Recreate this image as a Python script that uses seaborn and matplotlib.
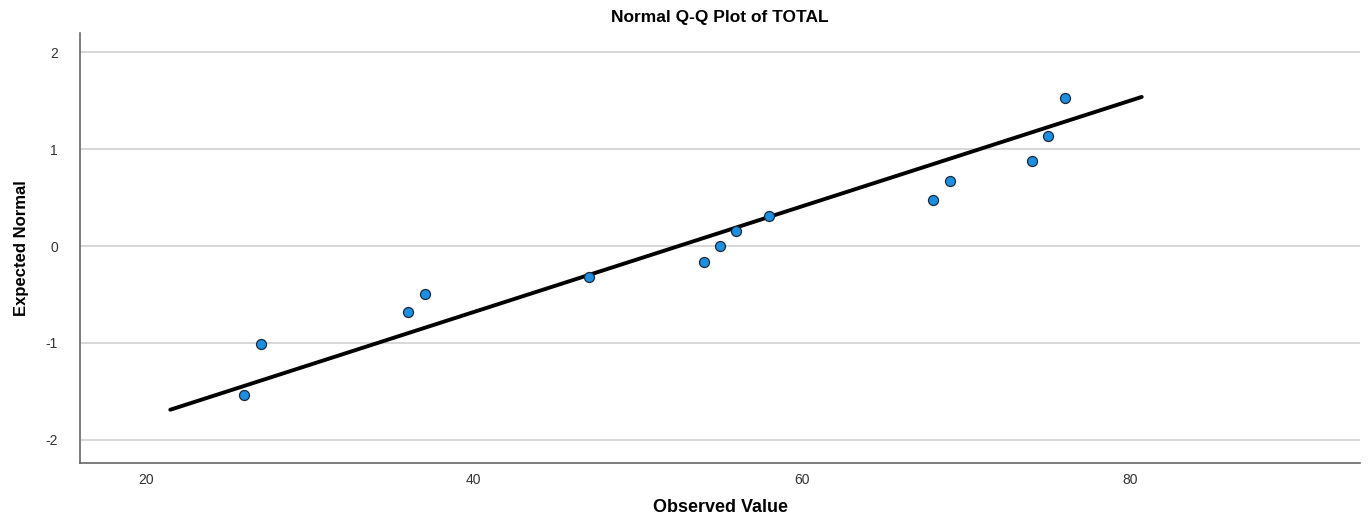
import numpy as np
import pandas as pd
import seaborn as sns
import matplotlib.pyplot as plt

observed = [26, 27, 36, 37, 47, 54, 55, 56, 58, 68, 69, 74, 75, 76]
expected = [-1.54, -1.01, -0.68, -0.49, -0.32, -0.165, 0.0, 0.155, 0.31,
            0.48, 0.67, 0.88, 1.14, 1.53]

# Reference line end points
line_x = [21.5, 80.7]
line_y = [-1.69, 1.54]

x_ticks = [20, 40, 60, 80]
y_ticks = [-2, -1, 0, 1, 2]

df = pd.DataFrame({"observed": observed, "expected": expected})

sns.set_style("white")
plt.rcParams["font.family"] = ["Liberation Sans", "DejaVu Sans"]
plt.rcParams["axes.unicode_minus"] = False
plt.rcParams["text.color"] = "black"
plt.rcParams["axes.labelcolor"] = "black"

fig = plt.figure(figsize=(13.7, 5.19), dpi=100)
ax = fig.add_axes([0.0584, 0.1079, 0.9343, 0.8285])

# Horizontal grid lines
for yv in y_ticks:
    ax.axhline(yv, color="#d4d4d4", linewidth=1.3, zorder=0)

# Reference line
sns.lineplot(x=line_x, y=line_y, color="black", linewidth=2.8, ax=ax,
             zorder=2)

# Q-Q points
sns.scatterplot(data=df, x="observed", y="expected", s=52,
                color="#1e8ee0", edgecolor="#1a2a3a", linewidth=0.9,
                ax=ax, zorder=3)

ax.set_xlim(16.0, 94.0)
ax.set_ylim(-2.24, 2.2)
ax.set_xticks(x_ticks)
ax.set_yticks(y_ticks)
ax.tick_params(axis="both", length=0, labelsize=10, colors="#333333")
ax.tick_params(axis="x", pad=7)
ax.tick_params(axis="y", pad=16)

for spine in ["top", "right"]:
    ax.spines[spine].set_visible(False)
for spine in ["left", "bottom"]:
    ax.spines[spine].set_color("#666666")
    ax.spines[spine].set_linewidth(1.2)

ax.set_title("Normal Q-Q Plot of TOTAL", fontsize=12.5, fontweight="bold",
             pad=8, color="black")
ax.set_xlabel("Observed Value", fontsize=13, fontweight="bold", labelpad=9)
ax.set_ylabel("Expected Normal", fontsize=12, fontweight="bold",
              labelpad=12)

fig.savefig("out.png", dpi=100)
